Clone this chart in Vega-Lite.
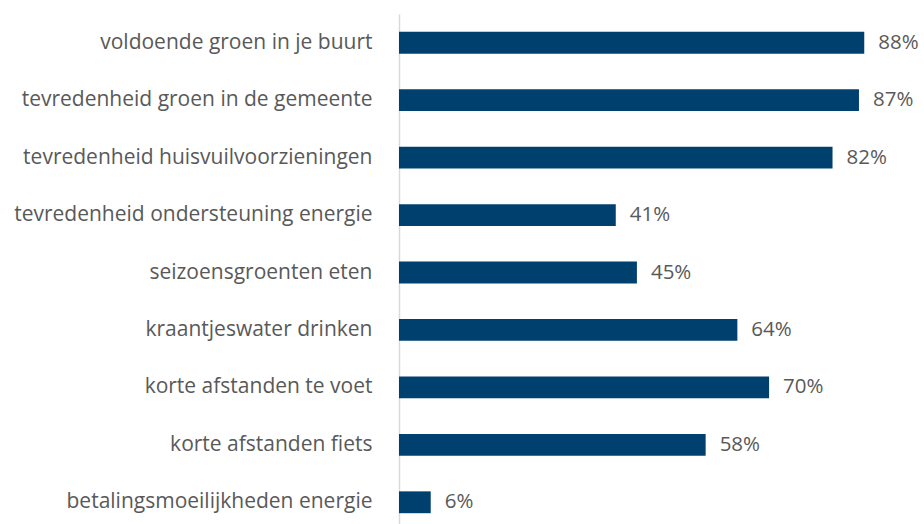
{
  "$schema": "https://vega.github.io/schema/vega-lite/v6.json",
  "width": 525,
  "height": 517,
  "autosize": "none",
  "padding": {"left": 399, "top": 14, "right": 0, "bottom": 0},
  "background": "white",
  "config": {"view": {"stroke": null}, "font": "Open Sans"},
  "data": {"values": [
    {"item": "voldoende groen in je buurt", "pct": 88},
    {"item": "tevredenheid groen in de gemeente", "pct": 87},
    {"item": "tevredenheid huisvuilvoorzieningen", "pct": 82},
    {"item": "tevredenheid ondersteuning energie", "pct": 41},
    {"item": "seizoensgroenten eten", "pct": 45},
    {"item": "kraantjeswater drinken", "pct": 64},
    {"item": "korte afstanden te voet", "pct": 70},
    {"item": "korte afstanden fiets", "pct": 58},
    {"item": "betalingsmoeilijkheden energie", "pct": 6}
  ]},
  "encoding": {
    "y": {"field": "item", "type": "nominal", "sort": null,
      "scale": {"paddingInner": 0.62, "paddingOuter": 0.31},
      "axis": {"title": null, "ticks": false, "labelPadding": 27, "labelFontSize": 21, "labelColor": "#595959", "domainColor": "#d9d9d9", "domainWidth": 1.5, "labelFont": "Open Sans", "labelLimit": 420}},
    "x": {"field": "pct", "type": "quantitative", "scale": {"domain": [0, 99.3], "nice": false}, "axis": null}
  },
  "layer": [
    {"mark": {"type": "bar", "color": "#00406e", "x": 1.5}},
    {"transform": [{"calculate": "datum.pct + '%'", "as": "label"}],
     "mark": {"type": "text", "align": "left", "dx": 14, "fontSize": 20.5, "color": "#595959", "font": "Open Sans"},
     "encoding": {"text": {"field": "label", "type": "nominal"}}}
  ]
}
